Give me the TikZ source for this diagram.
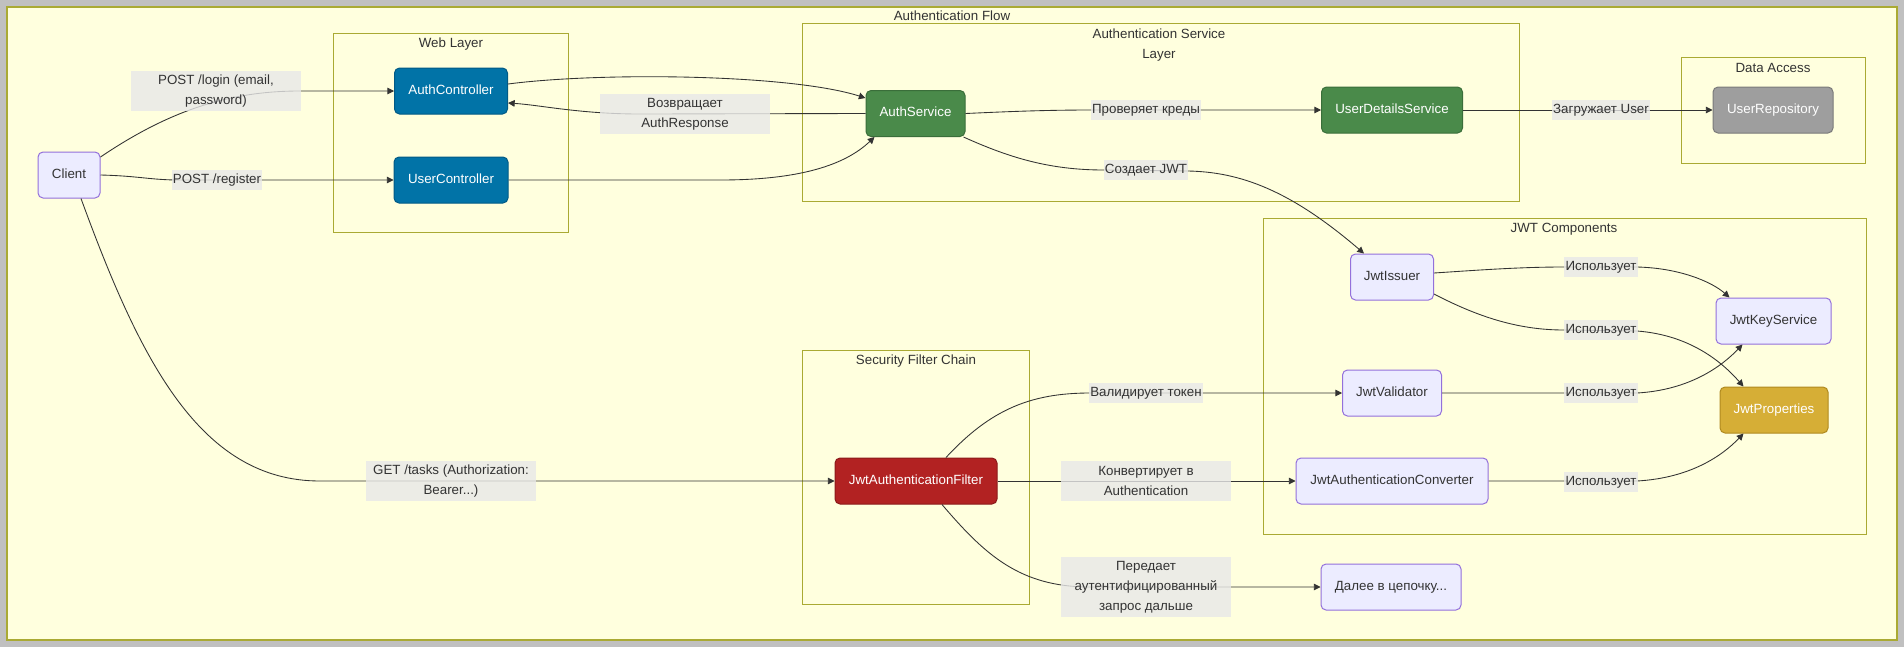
\documentclass[tikz,border=0pt]{standalone}
\usepackage{fontspec}
\setmainfont{Liberation Sans}
\usetikzlibrary{arrows.meta,calc}

\definecolor{bgyellow}{HTML}{FFFFDE}
\definecolor{clusterline}{HTML}{AAAA33}
\definecolor{framegray}{HTML}{C0C0C0}
\definecolor{ink}{HTML}{333333}
\definecolor{defaultfill}{HTML}{ECECFF}
\definecolor{defaultline}{HTML}{9370DB}
\definecolor{ctrlblue}{HTML}{0173A7}
\definecolor{ctrlline}{HTML}{015A85}
\definecolor{svcgreen}{HTML}{4A8A4A}
\definecolor{svcline}{HTML}{3A6E3A}
\definecolor{repogray}{HTML}{9E9E9E}
\definecolor{repoline}{HTML}{7A7A7A}
\definecolor{propgold}{HTML}{D6AE36}
\definecolor{propline}{HTML}{B08A20}
\definecolor{filterred}{HTML}{B22222}
\definecolor{filterline}{HTML}{8B1A1A}
\definecolor{labelgray}{HTML}{E8E8E8}

\begin{document}
\begin{tikzpicture}[x=0.75pt,y=-0.75pt,
  font=\fontsize{10}{15}\selectfont,
  box/.style={draw, rounded corners=3.75pt, line width=0.75pt, inner sep=0pt,
    minimum height=34.5pt, text height=7pt, text depth=2pt, text=ink},
  plain/.style={box, fill=defaultfill, draw=defaultline},
  ctrl/.style={box, fill=ctrlblue, draw=ctrlline, text=white},
  svc/.style={box, fill=svcgreen, draw=svcline, text=white},
  repo/.style={box, fill=repogray, draw=repoline, text=white},
  prop/.style={box, fill=propgold, draw=propline, text=white},
  filt/.style={box, fill=filterred, draw=filterline, text=white},
  elabel/.style={fill=labelgray, fill opacity=0.8, text opacity=1, text=ink,
    inner xsep=1pt, inner ysep=0pt, minimum height=15pt, text height=7pt, text depth=2pt},
  elabelwide/.style={fill=labelgray, fill opacity=0.8, text opacity=1, text=ink,
    inner sep=0pt, minimum width=127.5pt, minimum height=30pt, align=center},
  elabeltall/.style={elabelwide, minimum height=45pt},
  cluster/.style={draw=clusterline, fill=bgyellow, line width=0.75pt},
  ctitle/.style={text=ink, inner sep=0pt, align=center},
  edge/.style={draw=ink, line width=0.65pt, -{Triangle[length=5pt,width=5pt]}},
]
\useasboundingbox (0,0) rectangle (1904,647);

% frame and groups
\fill[framegray] (0,0) rectangle (1904,647);
\draw[cluster, line width=1.5pt] (7,7) rectangle (1897,640);
\node[ctitle] (tflow) at (952,16) {Authentication Flow};

\draw[cluster] (333,33) rectangle (568,232);
\node[ctitle] (tweb) at (451,44) {Web Layer};

\draw[cluster] (802,23) rectangle (1519,201);
\node[ctitle] (tsvc) at (1159,45) {Authentication Service\\Layer};

\draw[cluster] (1681,57) rectangle (1865,163);
\node[ctitle] (tdata) at (1773,68) {Data Access};

\draw[cluster] (1263,218) rectangle (1866,534);
\node[ctitle] (tjwt) at (1564,229) {JWT Components};

\draw[cluster] (802,350) rectangle (1029,604);
\node[ctitle] (tsec) at (916,361) {Security Filter Chain};

% components
\node[plain, minimum width=46.5pt] (client) at (69,175) {Client};
\node[ctrl, minimum width=84.75pt] (authc) at (451,91) {AuthController};
\node[ctrl, minimum width=85.5pt] (usrc) at (451,180) {UserController};
\node[svc, minimum width=74.25pt] (asvc) at (915.5,113.5) {AuthService};
\node[svc, minimum width=105.75pt] (uds) at (1392,110) {UserDetailsService};
\node[repo, minimum width=90pt] (urepo) at (1773,110) {UserRepository};
\node[plain, minimum width=62.25pt] (jwti) at (1392,277) {JwtIssuer};
\node[plain, minimum width=86.25pt] (jks) at (1773.5,321) {JwtKeyService};
\node[plain, minimum width=74.25pt] (jval) at (1392,393) {JwtValidator};
\node[prop, minimum width=81pt] (jprop) at (1774,410) {JwtProperties};
\node[plain, minimum width=144pt] (jconv) at (1392,481) {JwtAuthenticationConverter};
\node[filt, minimum width=121.5pt] (filt) at (916,481) {JwtAuthenticationFilter};
\node[plain, minimum width=105pt] (next) at (1391,587) {Далее в цепочку...};

% connectors
\draw[edge] ($(client.east)+(0,-18)$) .. controls (170,110) and (230,91) .. (300,91) -- (authc.west);
\draw[edge] (client.east) .. controls (140,176) and (150,180) .. (180,180) -- (usrc.west);
\draw[edge] ($(client.south)+(12,0)$) .. controls (140,360) and (200,481) .. (320,481) -- (filt.west);
\draw[edge] ($(authc.east)+(0,-7)$) .. controls (600,72) and (790,74) .. ($(asvc.north west)+(0,8)$);
\draw[edge] (asvc.west) -- (640,114) .. controls (580,114) and (540,105) .. ($(authc.east)+(0,12)$);
\draw[edge] (usrc.east) -- (720,180) .. controls (800,180) and (845,165) .. ($(asvc.south west)+(9,0)$);
\draw[edge] (asvc.east) .. controls (1000,112) and (1040,110) .. (1092,110) -- (uds.west);
\draw[edge] ($(asvc.south east)+(-2,0)$) .. controls (1010,158) and (1050,170) .. (1104,170)
  -- (1188,171) .. controls (1240,172) and (1290,190) .. ($(jwti.north west)+(14,0)$);
\draw[edge] (uds.east) -- (urepo.west);
\draw[edge] ($(jwti.east)+(0,-4)$) .. controls (1480,270) and (1520,267) .. (1564,267)
  -- (1637,267) .. controls (1680,268) and (1712,282) .. ($(jks.north west)+(14,0)$);
\draw[edge] ($(jwti.east)+(0,17)$) .. controls (1480,318) and (1520,330) .. (1564,330)
  -- (1637,331) .. controls (1690,335) and (1722,362) .. ($(jprop.north west)+(24,0)$);
\draw[edge] (jval.east) -- (1637,393) .. controls (1690,390) and (1722,366) .. ($(jks.south west)+(27,0)$);
\draw[edge] (jconv.east) -- (1637,481) .. controls (1690,478) and (1722,456) .. ($(jprop.south west)+(24,0)$);
\draw[edge] ($(filt.north)+(30,0)$) .. controls (990,410) and (1030,393) .. (1090,393) -- (jval.west);
\draw[edge] (filt.east) -- (jconv.west);
\draw[edge] ($(filt.south)+(26,0)$) .. controls (985,555) and (1020,587) .. (1090,587) -- (next.west);

% connector labels
\node[elabelwide] (lLogin) at (216,91) {POST /login (email,\\password)};
\node[elabel] (lReg) at (217,180) {POST /register};
\node[elabelwide] (lTasks) at (451,481) {GET /tasks (Authorization:\\Bearer...)};
\node[elabelwide] (lResp) at (685,114) {Возвращает\\AuthResponse};
\node[elabel] (lCreds) at (1146,110) {Проверяет креды};
\node[elabel] (lJwt) at (1146,170) {Создает JWT};
\node[elabel] (lLoad) at (1601,110) {Загружает User};
\node[elabel] (lUse1) at (1601,267) {Использует};
\node[elabel] (lUse2) at (1601,330) {Использует};
\node[elabel] (lUse3) at (1601,393) {Использует};
\node[elabel] (lUse4) at (1601,482) {Использует};
\node[elabel] (lVal) at (1146,393) {Валидирует токен};
\node[elabelwide] (lConv) at (1146,481) {Конвертирует в\\Authentication};
\node[elabeltall] (lPass) at (1146,587) {Передает\\аутентифицированный\\запрос дальше};
\end{tikzpicture}
\end{document}
